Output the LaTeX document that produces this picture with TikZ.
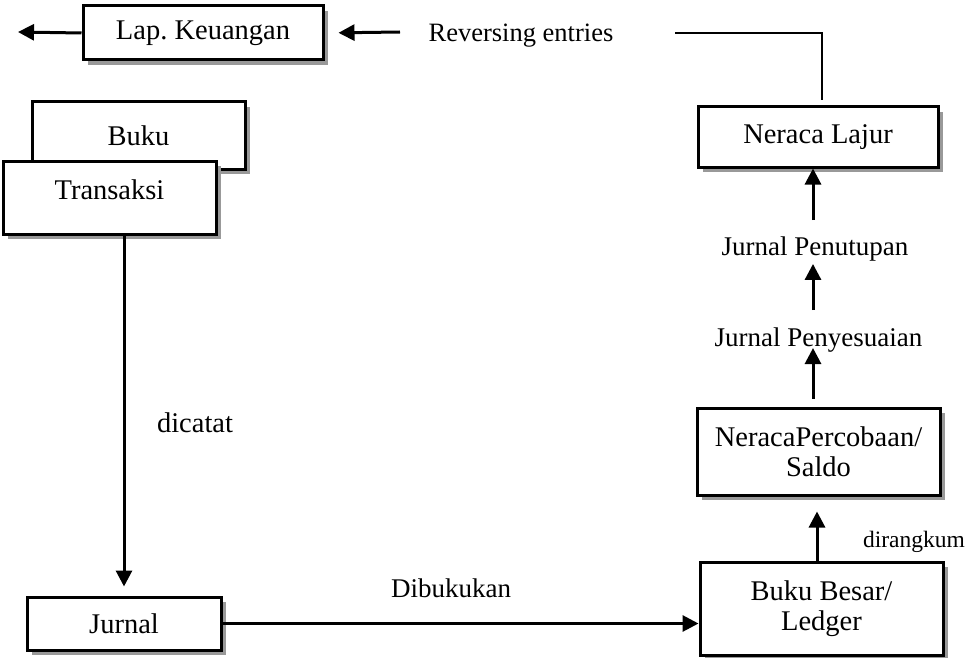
\documentclass[tikz,border=0pt]{standalone}
\usepackage{fontspec}
\setmainfont{Liberation Serif}
\usetikzlibrary{arrows.meta,shadows}

\begin{document}
\begin{tikzpicture}[x=1pt,y=-1pt,
    box/.style={draw, line width=3pt, fill=white, inner sep=0pt, align=center,
      font=\fontsize{28.5}{30}\selectfont,
      general shadow={fill=black!40, shadow xshift=5pt, shadow yshift=-5pt}},
    lbl/.style={inner sep=0pt, anchor=base, font=\fontsize{27}{30}\selectfont},
    arr/.style={line width=3pt, -{Triangle[length=16pt,width=16pt]}}]
    \useasboundingbox (0,0) rectangle (966,658);

    % boxes
    \node[box, minimum width=240pt, minimum height=54pt] (lap) at (203,33) {Lap.\ Keuangan};
    \node[box, minimum width=213pt, minimum height=67pt] (buku) at (138.5,135.5) {Buku};
    \node[box, minimum width=213pt, text height=38pt, text depth=35pt] (transaksi) at (109.5,197.5) {Transaksi};
    \node[box, minimum width=194pt, minimum height=53pt] (jurnal) at (124,623.5) {Jurnal};
    \node[box, minimum width=240pt, minimum height=60pt] (lajur) at (818,137) {Neraca Lajur};
    \node[box, minimum width=243pt, minimum height=87pt] (saldo) at (818.5,451.5) {NeracaPercobaan/\\ Saldo};
    \node[box, minimum width=243pt, minimum height=93pt] (ledger) at (821.5,608.5) {Buku Besar/\\ Ledger};

    % labels
    \node[lbl] (penutupan) at (815,255) {Jurnal Penutupan};
    \node[lbl] (penyesuaian) at (818.5,346) {Jurnal Penyesuaian};
    \node[lbl, font=\fontsize{28.5}{30}\selectfont] (dicatat) at (195,432) {dicatat};
    \node[lbl] (dibukukan) at (451,597) {Dibukukan};
    \node[lbl, font=\fontsize{23.5}{26}\selectfont] (dirangkum) at (914,547) {dirangkum};
    \node[lbl, font=\fontsize{26.5}{29}\selectfont] (reversing) at (521,42) {Reversing entries};

    \coordinate (out) at (18,32);
    \coordinate (revin) at (400,32);
    \coordinate (revstart) at (675,33);
    \coordinate (col) at (813,0);
    \coordinate (col2) at (817,0);

    % connectors
    \draw[arr] (lap.west) -- (out);
    \draw[arr, shorten >=14pt] (revin) -- (lap.east);
    \draw[line width=1.2pt, shorten >=5pt] (revstart) -| ([xshift=4pt]lajur.north);
    \draw[arr, shorten >=9pt] (transaksi.south -| jurnal.north) -- (jurnal.north);
    \draw[arr] (jurnal.east) -- (jurnal.east -| ledger.west);
    \draw[arr, shorten >=15pt] (ledger.north -| col2) -- (saldo.south -| col2);
    \draw[arr, shorten <=8pt, shorten >=-4pt] (saldo.north -| col) -- (penyesuaian.south -| col);
    \draw[arr, shorten <=17pt, shorten >=3pt] (penyesuaian.north -| col) -- (penutupan.south -| col);
    \draw[arr, shorten <=16pt] (penutupan.north -| col) -- (lajur.south -| col);
\end{tikzpicture}
\end{document}
